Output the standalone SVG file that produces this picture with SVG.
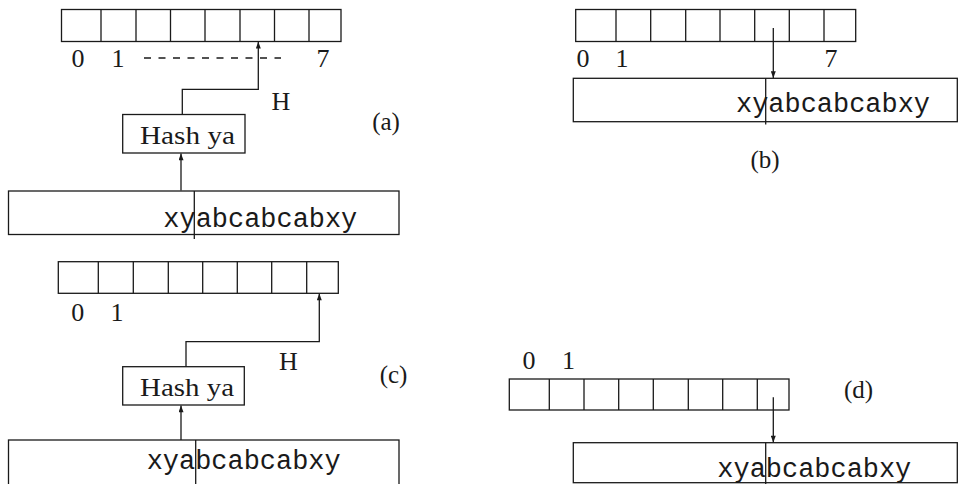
<svg xmlns="http://www.w3.org/2000/svg" width="959" height="484" viewBox="0 0 959 484">
<style>
.ln{fill:none;stroke:#1a1a1a;stroke-width:1.3}
.bx{fill:#fff;stroke:#1a1a1a;stroke-width:1.3}
.sf{font-family:"Liberation Serif","DejaVu Serif",serif;font-size:26px;fill:#1a1a1a}
.pl{font-size:25px}
.tt{font-family:"Liberation Mono","DejaVu Sans Mono",monospace;font-size:27px;fill:#1a1a1a}
.mid{text-anchor:middle}
</style>
<defs>
<marker id="ah" viewBox="0 0 8 6" refX="8" refY="3" markerWidth="8" markerHeight="5" markerUnits="userSpaceOnUse" orient="auto">
<path d="M0,0 L8,3 L0,6 z" fill="#1a1a1a"/>
</marker>
</defs>

<!-- Panel (a) -->
<g id="arrayA">
<rect class="bx" x="61.5" y="9.5" width="279.5" height="32"/>
<path class="ln" d="M101,9.5V41.5M136,9.5V41.5M170.5,9.5V41.5M205,9.5V41.5M240,9.5V41.5M274.5,9.5V41.5M309,9.5V41.5"/>
<text class="sf mid" x="78" y="67">0</text>
<text class="sf mid" x="118" y="67">1</text>
<text class="sf mid" x="323" y="67">7</text>
<path class="ln" d="M144,58H281" stroke-dasharray="7 7.5"/>
</g>
<g id="hashA">
<rect class="bx" x="122.7" y="114.5" width="122.3" height="38.5"/>
<text class="sf" x="140" y="143.5" textLength="95" lengthAdjust="spacingAndGlyphs">Hash ya</text>
</g>
<g id="stringA">
<rect class="bx" x="8.5" y="191" width="390.5" height="43.5"/>
<path class="ln" d="M194.3,191V239"/>
<text class="tt" x="163.3" y="226.5" textLength="194" lengthAdjust="spacingAndGlyphs">xyabcabcabxy</text>
</g>
<g id="labelsA">
<text class="sf mid" x="281" y="110">H</text>
<text class="sf pl mid" x="386" y="129.5">(a)</text>
</g>

<!-- Panel (b) -->
<g id="arrayB">
<rect class="bx" x="575.7" y="9.5" width="280" height="32"/>
<path class="ln" d="M616,9.5V41.5M650.7,9.5V41.5M685.7,9.5V41.5M720,9.5V41.5M754.7,9.5V41.5M789.3,9.5V41.5M824,9.5V41.5"/>
<text class="sf mid" x="583" y="67">0</text>
<text class="sf mid" x="622" y="67">1</text>
<text class="sf mid" x="831" y="67">7</text>
</g>
<g id="stringB">
<rect class="bx" x="573.3" y="78.3" width="384" height="43.4"/>
<path class="ln" d="M765.7,78.3V124.5"/>
<text class="tt" x="736" y="111.5" textLength="194" lengthAdjust="spacingAndGlyphs">xyabcabcabxy</text>
</g>
<g id="labelsB">
<text class="sf pl mid" x="765" y="168">(b)</text>
</g>

<!-- Panel (c) -->
<g id="arrayC">
<rect class="bx" x="58.3" y="261.7" width="280" height="31.6"/>
<path class="ln" d="M98.3,261.7V293.3M133.3,261.7V293.3M168.3,261.7V293.3M202.7,261.7V293.3M237.3,261.7V293.3M271.7,261.7V293.3M306.7,261.7V293.3"/>
<text class="sf mid" x="77.7" y="320.7">0</text>
<text class="sf mid" x="117" y="320.7">1</text>
</g>
<g id="hashC">
<rect class="bx" x="122.7" y="366.7" width="121.6" height="38.3"/>
<text class="sf" x="140" y="395.5" textLength="94" lengthAdjust="spacingAndGlyphs">Hash ya</text>
</g>
<g id="stringC">
<rect class="bx" x="8.5" y="440" width="390.5" height="60"/>
<path class="ln" d="M195.7,440V484"/>
<text class="tt" x="146.7" y="468.5" textLength="194" lengthAdjust="spacingAndGlyphs">xyabcabcabxy</text>
</g>
<g id="labelsC">
<text class="sf mid" x="288.5" y="370">H</text>
<text class="sf pl mid" x="393.5" y="383">(c)</text>
</g>

<!-- Panel (d) -->
<g id="arrayD">
<rect class="bx" x="509.3" y="379" width="279.7" height="31"/>
<path class="ln" d="M549.3,379V410M584,379V410M618.7,379V410M653.3,379V410M688.3,379V410M722.7,379V410M757.3,379V410"/>
<text class="sf mid" x="529" y="368.5">0</text>
<text class="sf mid" x="568.5" y="368.5">1</text>
</g>
<g id="stringD">
<rect class="bx" x="573.3" y="442.7" width="384" height="40"/>
<path class="ln" d="M765.7,442.7V484"/>
<text class="tt" x="717.3" y="476.5" textLength="194" lengthAdjust="spacingAndGlyphs">xyabcabcabxy</text>
</g>
<g id="labelsD">
<text class="sf pl mid" x="858.5" y="398">(d)</text>
</g>

<!-- Connectors -->
<g id="connectors">
<path class="ln" d="M181,190.5V153.5" marker-end="url(#ah)"/>
<path class="ln" d="M182.3,114.5V89.3H258.3V41.8" marker-end="url(#ah)"/>
<path class="ln" d="M773.3,28V78" marker-end="url(#ah)"/>
<path class="ln" d="M181,440V405.5" marker-end="url(#ah)"/>
<path class="ln" d="M186,366.7V341.7H319.3V293.6" marker-end="url(#ah)"/>
<path class="ln" d="M773.3,397.3V442.5" marker-end="url(#ah)"/>
</g>
</svg>
